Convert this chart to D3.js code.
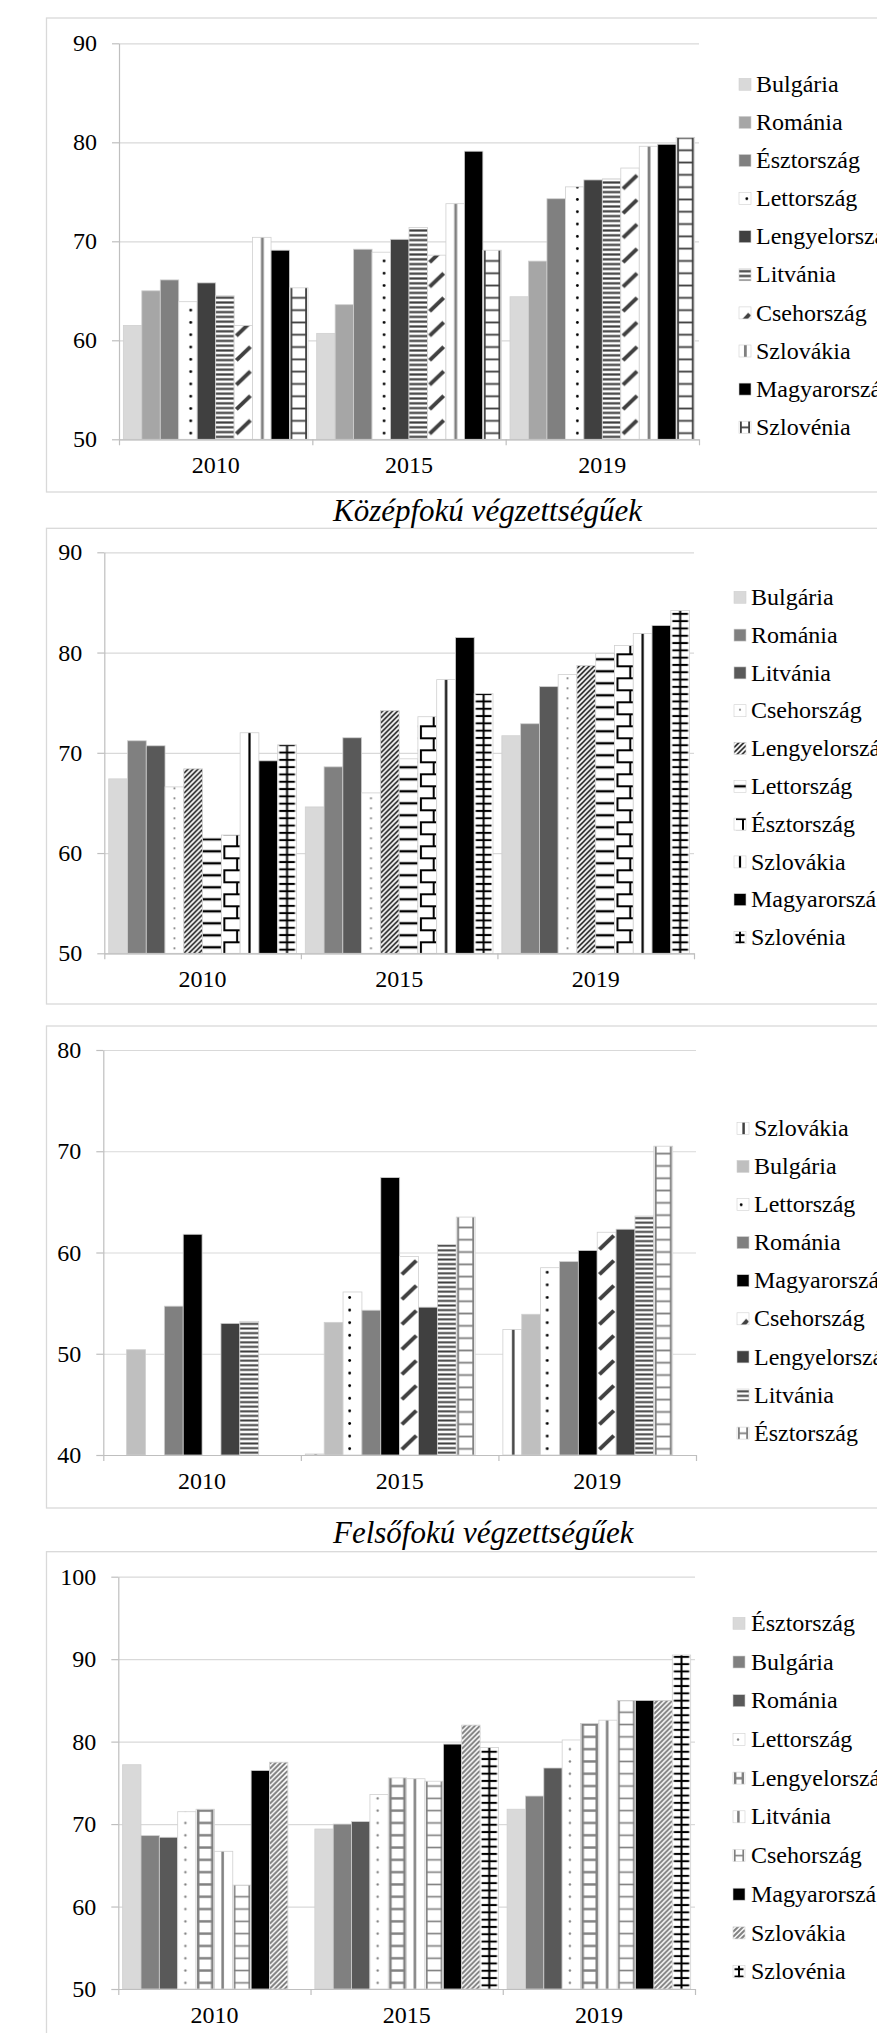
<!DOCTYPE html>
<html><head><meta charset="utf-8">
<script src="https://cdn.jsdelivr.net/npm/d3@7"></script>
<style>
body{margin:0;background:#fff;}
svg{display:block;}
text{font-family:"Liberation Serif","Times New Roman",serif;fill:#000;}
</style>
</head><body>
<svg id="c" width="877" height="2033"></svg>
<script>
// ---------------- DATA ----------------
const years = ["2010", "2015", "2019"];

// Panel 1
const p1Series = ["Bulgária","Románia","Észtország","Lettország","Lengyelország","Litvánia","Csehország","Szlovákia","Magyarország","Szlovénia"];
const p1v2010 = [61.5, 65.0, 66.1, 63.9, 65.8, 64.5, 61.5, 70.4, 69.1, 65.3];
const p1v2015 = [60.7, 63.6, 69.2, 68.9, 70.2, 71.4, 68.6, 73.8, 79.1, 69.1];
const p1v2019 = [64.4, 68.0, 74.3, 75.5, 76.2, 76.3, 77.4, 79.6, 79.8, 80.5];
const p1Ticks = [50, 60, 70, 80, 90];

// Panel 2
const p2Title = "Középfokú végzettségűek";
const p2Series = ["Bulgária","Románia","Litvánia","Csehország","Lengyelország","Lettország","Észtország","Szlovákia","Magyarország","Szlovénia"];
const p2v2010 = [67.4, 71.2, 70.7, 66.6, 68.4, 61.5, 61.8, 72.0, 69.2, 70.8];
const p2v2015 = [64.6, 68.6, 71.5, 66.0, 74.2, 69.4, 73.6, 77.3, 81.5, 75.9];
const p2v2019 = [71.7, 72.9, 76.6, 77.8, 78.7, 79.9, 80.7, 81.9, 82.7, 84.2];
const p2Ticks = [50, 60, 70, 80, 90];

// Panel 3
const p3Series = ["Szlovákia","Bulgária","Lettország","Románia","Magyarország","Csehország","Lengyelország","Litvánia","Észtország"];
const p3v2010 = [null, 50.4, null, 54.7, 61.8, null, 53.0, 53.2, null];
const p3v2015 = [40.1, 53.1, 56.1, 54.3, 67.4, 59.6, 54.6, 60.8, 63.5];
const p3v2019 = [52.4, 53.9, 58.5, 59.1, 60.2, 62.0, 62.3, 63.6, 70.5];
const p3Ticks = [40, 50, 60, 70, 80];

// Panel 4
const p4Title = "Felsőfokú végzettségűek";
const p4Series = ["Észtország","Bulgária","Románia","Lettország","Lengyelország","Litvánia","Csehország","Magyarország","Szlovákia","Szlovénia"];
const p4v2010 = [77.2, 68.6, 68.4, 71.5, 71.8, 66.7, 62.6, 76.5, 77.5, null];
const p4v2015 = [69.4, 70.0, 70.3, 73.6, 75.6, 75.5, 75.2, 79.7, 82.0, 79.3];
const p4v2019 = [71.8, 73.4, 76.8, 80.2, 82.2, 82.6, 85.0, 85.0, 85.0, 90.5];
const p4Ticks = [50, 60, 70, 80, 90, 100];

// ---------------- STYLES (fills per series) ----------------
const p1Fills = [
  {t:"solid", c:"#d9d9d9"}, {t:"solid", c:"#a6a6a6"}, {t:"solid", c:"#808080"},
  {t:"dots", c:"#000", per:12.3, r:1.4, fx:0.65},
  {t:"solid", c:"#404040"},
  {t:"hlines", c:"#404040", per:4.8, th:2.2},
  {t:"diagDash", c:"#404040", per:24.5, th:4},
  {t:"vline", c:"#808080", per:10, th:2.8, fx:0.53},
  {t:"solid", c:"#000"},
  {t:"ladder", c:"#404040", per:12.3, th:1.8}
];
const p2Fills = [
  {t:"solid", c:"#d9d9d9"}, {t:"solid", c:"#808080"}, {t:"solid", c:"#595959"},
  {t:"dots", c:"#808080", per:10, r:1.1, fx:0.5},
  {t:"diagDense", c:"#000", s:5, per:20, th:1.5},
  {t:"hlines", c:"#000", per:12, th:2.4},
  {t:"meander", c:"#000", per:24, th:2},
  {t:"vline", c:"#000", per:10, th:2.2, fx:0.5},
  {t:"solid", c:"#000"},
  {t:"cross", c:"#000", per:7.3, th:2}
];
const p3Fills = [
  {t:"vline", c:"#404040", per:10, th:2.5, fx:0.55},
  {t:"solid", c:"#bfbfbf"},
  {t:"dots", c:"#000", per:12.6, r:1.4, fx:0.35},
  {t:"solid", c:"#808080"},
  {t:"solid", c:"#000"},
  {t:"diagDash", c:"#404040", per:25, th:4},
  {t:"solid", c:"#404040"},
  {t:"hlines", c:"#404040", per:4.6, th:2},
  {t:"ladder", c:"#808080", per:12.3, th:1.8}
];
const p4Fills = [
  {t:"solid", c:"#d9d9d9"}, {t:"solid", c:"#808080"}, {t:"solid", c:"#595959"},
  {t:"dots", c:"#808080", per:12.3, r:1.2, fx:0.42},
  {t:"ladder", c:"#808080", per:12.3, th:2.4},
  {t:"vline", c:"#808080", per:10, th:2.5, fx:0.45},
  {t:"ladder", c:"#808080", per:12.3, th:1.6},
  {t:"solid", c:"#000"},
  {t:"diagDense", c:"#808080", s:5, per:20, th:2},
  {t:"cross", c:"#000", per:7.3, th:2}
];

// ---------------- LAYOUT ----------------
const panels = [
  {series:p1Series, values:[p1v2010,p1v2015,p1v2019], ticks:p1Ticks, fills:p1Fills, slots:10,
   left:119, right:699, top:43.3, bottom:439.3, frameTop:18, frameBottom:492,
   legX:739, legTextX:756, legY0:84.3, legStep:38.1},
  {series:p2Series, values:[p2v2010,p2v2015,p2v2019], ticks:p2Ticks, fills:p2Fills, slots:10,
   left:104.3, right:694, top:552.3, bottom:953.3, frameTop:528.3, frameBottom:1004,
   legX:734, legTextX:751, legY0:597.3, legStep:37.8, title:p2Title, titleY:521},
  {series:p3Series, values:[p3v2010,p3v2015,p3v2019], ticks:p3Ticks, fills:p3Fills, slots:10,
   left:103.3, right:696, top:1050, bottom:1455, frameTop:1026, frameBottom:1508,
   legX:737, legTextX:754, legY0:1128.3, legStep:38.1},
  {series:p4Series, values:[p4v2010,p4v2015,p4v2019], ticks:p4Ticks, fills:p4Fills, slots:10,
   left:118.3, right:695, top:1576.7, bottom:1989, frameTop:1551.7, frameBottom:2060,
   legX:733, legTextX:751, legY0:1623.3, legStep:38.7, title:p4Title, titleY:1543}
];

const svg = d3.select("#c");
const defs = svg.append("defs");
let pid = 0;

function fillFor(sp, x, y, w) {
  if (sp.t === "solid") return sp.c;
  const id = "pt" + (pid++);
  const per = sp.per;
  const c = sp.c;
  const p = defs.append("pattern").attr("id", id).attr("patternUnits", "userSpaceOnUse")
    .attr("x", x).attr("y", y).attr("width", w).attr("height", per);
  p.append("rect").attr("width", w).attr("height", per).attr("fill", "#fff");
  if (sp.t === "dots") {
    p.append("circle").attr("cx", w * sp.fx).attr("cy", per / 2).attr("r", sp.r).attr("fill", c);
  } else if (sp.t === "hlines") {
    p.append("rect").attr("x", 0).attr("y", (per - sp.th) / 2).attr("width", w).attr("height", sp.th).attr("fill", c);
  } else if (sp.t === "vline") {
    p.append("rect").attr("x", w * sp.fx - sp.th / 2).attr("y", 0).attr("width", sp.th).attr("height", per).attr("fill", c);
  } else if (sp.t === "diagDash") {
    const rise = Math.min(per * 0.55, w * 0.85);
    p.append("line").attr("x1", w * 0.12).attr("y1", per / 2 + rise / 2)
      .attr("x2", w * 0.88).attr("y2", per / 2 - rise / 2)
      .attr("stroke", c).attr("stroke-width", sp.th);
  } else if (sp.t === "diagDense") {
    const n = Math.ceil((w + per) / sp.s) + 2;
    for (let k = -1; k <= n; k++) {
      p.append("line").attr("x1", 0).attr("y1", k * sp.s).attr("x2", w).attr("y2", k * sp.s - w)
        .attr("stroke", c).attr("stroke-width", sp.th);
    }
  } else if (sp.t === "ladder") {
    p.append("rect").attr("x", 1).attr("y", 0).attr("width", sp.th).attr("height", per).attr("fill", c);
    p.append("rect").attr("x", w - 1 - sp.th).attr("y", 0).attr("width", sp.th).attr("height", per).attr("fill", c);
    p.append("rect").attr("x", 1).attr("y", (per - sp.th) / 2).attr("width", w - 2).attr("height", sp.th).attr("fill", c);
  } else if (sp.t === "meander") {
    const h = per / 2;
    p.append("rect").attr("x", 2).attr("y", 0).attr("width", w - 2).attr("height", sp.th).attr("fill", c);
    p.append("rect").attr("x", 2).attr("y", h).attr("width", w - 2).attr("height", sp.th).attr("fill", c);
    p.append("rect").attr("x", w - 2 - sp.th).attr("y", 0).attr("width", sp.th).attr("height", h).attr("fill", c);
    p.append("rect").attr("x", 2).attr("y", h).attr("width", sp.th).attr("height", h).attr("fill", c);
  } else if (sp.t === "cross") {
    p.append("rect").attr("x", w / 2 - sp.th / 2).attr("y", 0).attr("width", sp.th).attr("height", per).attr("fill", c);
    p.append("rect").attr("x", 1.5).attr("y", (per - sp.th) / 2).attr("width", w - 3).attr("height", sp.th).attr("fill", c);
  }
  return `url(#${id})`;
}

function drawPanel(cfg) {
  const g = svg.append("g");
  // frame
  g.append("rect").attr("x", 46.5).attr("y", cfg.frameTop).attr("width", 1000)
    .attr("height", cfg.frameBottom - cfg.frameTop).attr("fill", "none").attr("stroke", "#d9d9d9").attr("stroke-width", 1.3);

  if (cfg.title) {
    g.append("text").attr("x", 333).attr("y", cfg.titleY).attr("font-size", 31)
      .attr("font-style", "italic").text(cfg.title);
  }

  const y = d3.scaleLinear().domain([cfg.ticks[0], cfg.ticks[cfg.ticks.length - 1]]).range([cfg.bottom, cfg.top]);
  const x0 = d3.scaleBand().domain(years).range([cfg.left, cfg.right]).paddingInner(0.045).paddingOuter(0.0225);
  const x1 = d3.scaleBand().domain(d3.range(cfg.slots)).range([0, x0.bandwidth()]);

  // gridlines
  g.append("g").attr("transform", `translate(${cfg.left},0)`)
    .call(d3.axisLeft(y).tickValues(cfg.ticks).tickSize(-(cfg.right - cfg.left)).tickFormat(""))
    .call(a => a.select(".domain").remove())
    .call(a => a.selectAll("line").attr("stroke", "#d9d9d9").attr("stroke-width", 1.2));

  // bars
  years.forEach((yr, yi) => {
    const vals = cfg.values[yi];
    const bg = g.append("g");
    bg.selectAll("rect").data(vals.map((v, si) => ({v, si})).filter(d => d.v != null))
      .join("rect")
      .attr("x", d => x0(yr) + x1(d.si))
      .attr("y", d => y(d.v))
      .attr("width", x1.bandwidth())
      .attr("height", d => cfg.bottom - y(d.v))
      .attr("fill", d => fillFor(cfg.fills[d.si], x0(yr) + x1(d.si), cfg.bottom, x1.bandwidth()))
      .attr("stroke", "#d0d0d0").attr("stroke-width", 0.8);
  });

  // y axis
  g.append("g").attr("transform", `translate(${cfg.left},0)`)
    .call(d3.axisLeft(y).tickValues(cfg.ticks).tickSize(7).tickSizeOuter(0).tickPadding(15))
    .call(a => a.select(".domain").attr("stroke", "#bfbfbf").attr("stroke-width", 1.2))
    .call(a => a.selectAll("line").attr("stroke", "#bfbfbf").attr("stroke-width", 1.2))
    .call(a => a.selectAll("text").attr("font-size", 24).attr("font-family", "Liberation Serif").attr("fill", "#000"));

  // x axis line with boundary ticks
  const xl = d3.scaleLinear().domain([0, years.length]).range([cfg.left, cfg.right]);
  g.append("g").attr("transform", `translate(0,${cfg.bottom})`)
    .call(d3.axisBottom(xl).tickValues(d3.range(years.length + 1)).tickSize(6).tickSizeOuter(0).tickFormat(""))
    .call(a => a.select(".domain").attr("stroke", "#bfbfbf").attr("stroke-width", 1.2))
    .call(a => a.selectAll("line").attr("stroke", "#bfbfbf").attr("stroke-width", 1.2));

  // category labels
  g.append("g").attr("transform", `translate(0,${cfg.bottom})`)
    .call(d3.axisBottom(x0).tickSize(0).tickPadding(17))
    .call(a => a.select(".domain").remove())
    .call(a => a.selectAll("text").attr("font-size", 24).attr("font-family", "Liberation Serif").attr("fill", "#000"));

  // legend
  const lg = g.append("g");
  cfg.series.forEach((name, i) => {
    const cy = cfg.legY0 + i * cfg.legStep;
    lg.append("rect").attr("x", cfg.legX).attr("y", cy - 6).attr("width", 12).attr("height", 12)
      .attr("fill", fillFor(cfg.fills[i], cfg.legX, cy - 6, 12))
      .attr("stroke", "#d0d0d0").attr("stroke-width", 0.6);
    lg.append("text").attr("x", cfg.legTextX).attr("y", cy).attr("dy", "0.32em")
      .attr("font-size", 24).text(name);
  });
}

panels.forEach(drawPanel);
</script>
</body></html>
